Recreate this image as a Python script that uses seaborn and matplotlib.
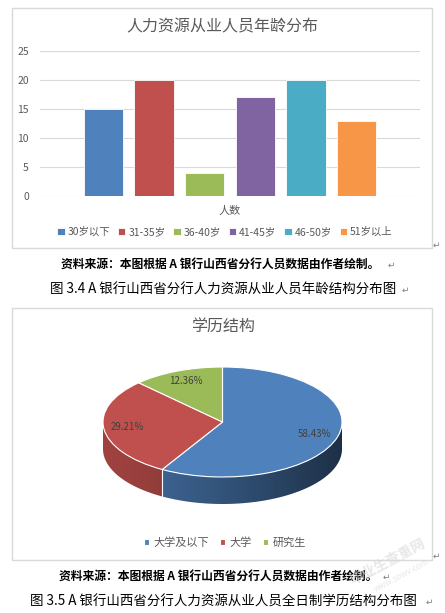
import numpy as np
import matplotlib
matplotlib.use("Agg")
import matplotlib.pyplot as plt
from matplotlib.colors import to_rgb
from matplotlib.patches import Rectangle, Polygon
import pandas as pd
import seaborn as sns

# data
age_groups = ["30岁以下", "31-35岁", "36-40岁", "41-45岁", "46-50岁", "51岁以上"]
age_counts = [15, 20, 4, 17, 20, 13]
age_colors = ["#4F81BD", "#C0504D", "#9BBB59", "#8064A2", "#4BACC6", "#F79646"]

edu_levels = ["大学及以下", "大学", "研究生"]
edu_counts = [52, 26, 11]          # 58.43% / 29.21% / 12.36%
edu_colors = ["#4F81BD", "#C0504D", "#9BBB59"]

W, H = 445, 613
GREY = "#595959"

sns.set_theme(style="white")
plt.rcParams["font.family"] = ["Noto Sans CJK SC", "DejaVu Sans"]
plt.rcParams["axes.unicode_minus"] = False

fig = plt.figure(figsize=(W / 100, H / 100), dpi=100)


def fx(x):
    return x / W


def fy(y):
    return 1 - y / H


def px_box(x0, y0, x1, y1):
    return [x0 / W, 1 - y1 / H, (x1 - x0) / W, (y1 - y0) / H]


# chart frames
for x0, y0, x1, y1 in [(12, 8, 432, 248), (12, 308, 432, 560)]:
    fig.patches.append(Rectangle((fx(x0), fy(y1)), (x1 - x0) / W, (y1 - y0) / H,
                                 transform=fig.transFigure, fill=False,
                                 edgecolor="#d9d9d9", lw=1))

# ---- 1. age bar chart ----
ax = fig.add_axes(px_box(40, 51, 420, 196))
df = pd.DataFrame({"类别": ["人数"] * len(age_groups), "年龄": age_groups, "人数": age_counts})
sns.barplot(data=df, x="类别", y="人数", hue="年龄", palette=age_colors,
            width=0.8, gap=0.22, saturation=1, edgecolor="white", linewidth=0.6, ax=ax)
ax.set_ylim(0, 25)
ax.set_xlim(-0.5, 0.5)
ax.set_yticks(range(0, 26, 5))
ax.yaxis.grid(True, color="#d9d9d9", lw=0.8)
ax.set_axisbelow(True)
sns.despine(ax=ax, left=True, bottom=True)
ax.set_xlabel("")
ax.set_ylabel("")
ax.tick_params(axis="y", length=0, pad=8, labelsize=7.5, labelcolor=GREY)
ax.tick_params(axis="x", length=0, pad=7, labelsize=8, labelcolor=GREY)
sns.move_legend(ax, "center", bbox_to_anchor=((225 - 40) / 380, (196 - 232) / 145),
                ncol=6, frameon=False, title=None, fontsize=7.5,
                handlelength=0.7, handleheight=0.7, handletextpad=0.3,
                columnspacing=0.75, labelcolor=GREY)

fig.text(fx(222), fy(27), "人力资源从业人员年龄分布", ha="center", va="center",
         fontsize=11.5, color=GREY)
fig.text(fx(220), fy(265), "资料来源：本图根据 A 银行山西省分行人员数据由作者绘制。",
         ha="center", va="center", fontsize=8.5, fontweight="bold", color="black")
fig.text(fx(223), fy(290), "图 3.4 A 银行山西省分行人力资源从业人员年龄结构分布图",
         ha="center", va="center", fontsize=9.7, color="black")

# ---- 2. education pie with a shaded rim ----
pax = fig.add_axes(px_box(12, 340, 432, 520))
wedges, texts, autotexts = pax.pie(
    edu_counts, colors=edu_colors, startangle=90, counterclock=False,
    autopct="%.2f%%", pctdistance=0.8,
    wedgeprops=dict(edgecolor="white", linewidth=0.8, zorder=2),
    textprops=dict(fontsize=7, color="#404040"))
for t in autotexts:
    t.set_zorder(5)

depth = 27 / 55
xs = np.linspace(-1, 1, 400)
shade = 0.83 - 0.46 * ((xs + 1) / 2) ** 1.3
for w, col in zip(wedges, edu_colors):
    lo, hi = max(w.theta1, -180), min(w.theta2, 0)
    if lo >= hi:
        continue
    th = np.radians(np.linspace(lo, hi, 100))
    top = np.column_stack([np.cos(th), np.sin(th)])
    bot = np.column_stack([np.cos(th), np.sin(th) - depth])[::-1]
    rim = Polygon(np.vstack([top, bot]), closed=True, facecolor="none",
                  edgecolor="none", zorder=1)
    pax.add_patch(rim)
    grad = np.clip(np.array(to_rgb(col))[None, :] * shade[:, None], 0, 1)[None, :, :]
    im = pax.imshow(grad, extent=(-1, 1, -1 - depth, 0.1), aspect="auto",
                    interpolation="bilinear", zorder=1)
    im.set_clip_path(rim)
    if lo > -180:
        r = np.radians(lo)
        pax.plot([np.cos(r)] * 2, [np.sin(r), np.sin(r) - depth], color="white",
                 lw=0.8, zorder=1.5)

pax.set_xlim((12 - 222.5) / 119.5, (432 - 222.5) / 119.5)
pax.set_ylim(-(520 - 422) / 55, (422 - 340) / 55)
pax.set_aspect("auto")
pax.axis("off")

fig.legend(wedges, edu_levels, loc="center", bbox_to_anchor=(fx(225), fy(543)), ncol=3,
           frameon=False, fontsize=8, labelcolor=GREY, handlelength=0.45, handleheight=0.45,
           handletextpad=0.4, columnspacing=1.0)

fig.text(fx(223), fy(327), "学历结构", ha="center", va="center", fontsize=11.5, color=GREY)
fig.text(fx(218), fy(577), "资料来源：本图根据 A 银行山西省分行人员数据由作者绘制。",
         ha="center", va="center", fontsize=8.5, fontweight="bold", color="black")
fig.text(fx(223), fy(602), "图 3.5 A 银行山西省分行人力资源从业人员全日制学历结构分布图",
         ha="center", va="center", fontsize=9.7, color="black")

# paragraph marks
for x, y in [(436, 245), (391, 265), (405, 290), (436, 556), (386, 577), (429, 602)]:
    fig.text(fx(x), fy(y), "↵", ha="center", va="center", fontsize=6.5, color="#7f7f7f")

# faint watermark
fig.text(fx(388), fy(562), "毕业生查重网", rotation=28, ha="center", va="center",
         fontsize=10, fontweight="bold", color="#d8d8d8", alpha=0.6)
fig.text(fx(402), fy(575), "www.sowv.com", rotation=28, ha="center", va="center",
         fontsize=6, color="#d8d8d8", alpha=0.6)

fig.savefig("out.png", dpi=100)
